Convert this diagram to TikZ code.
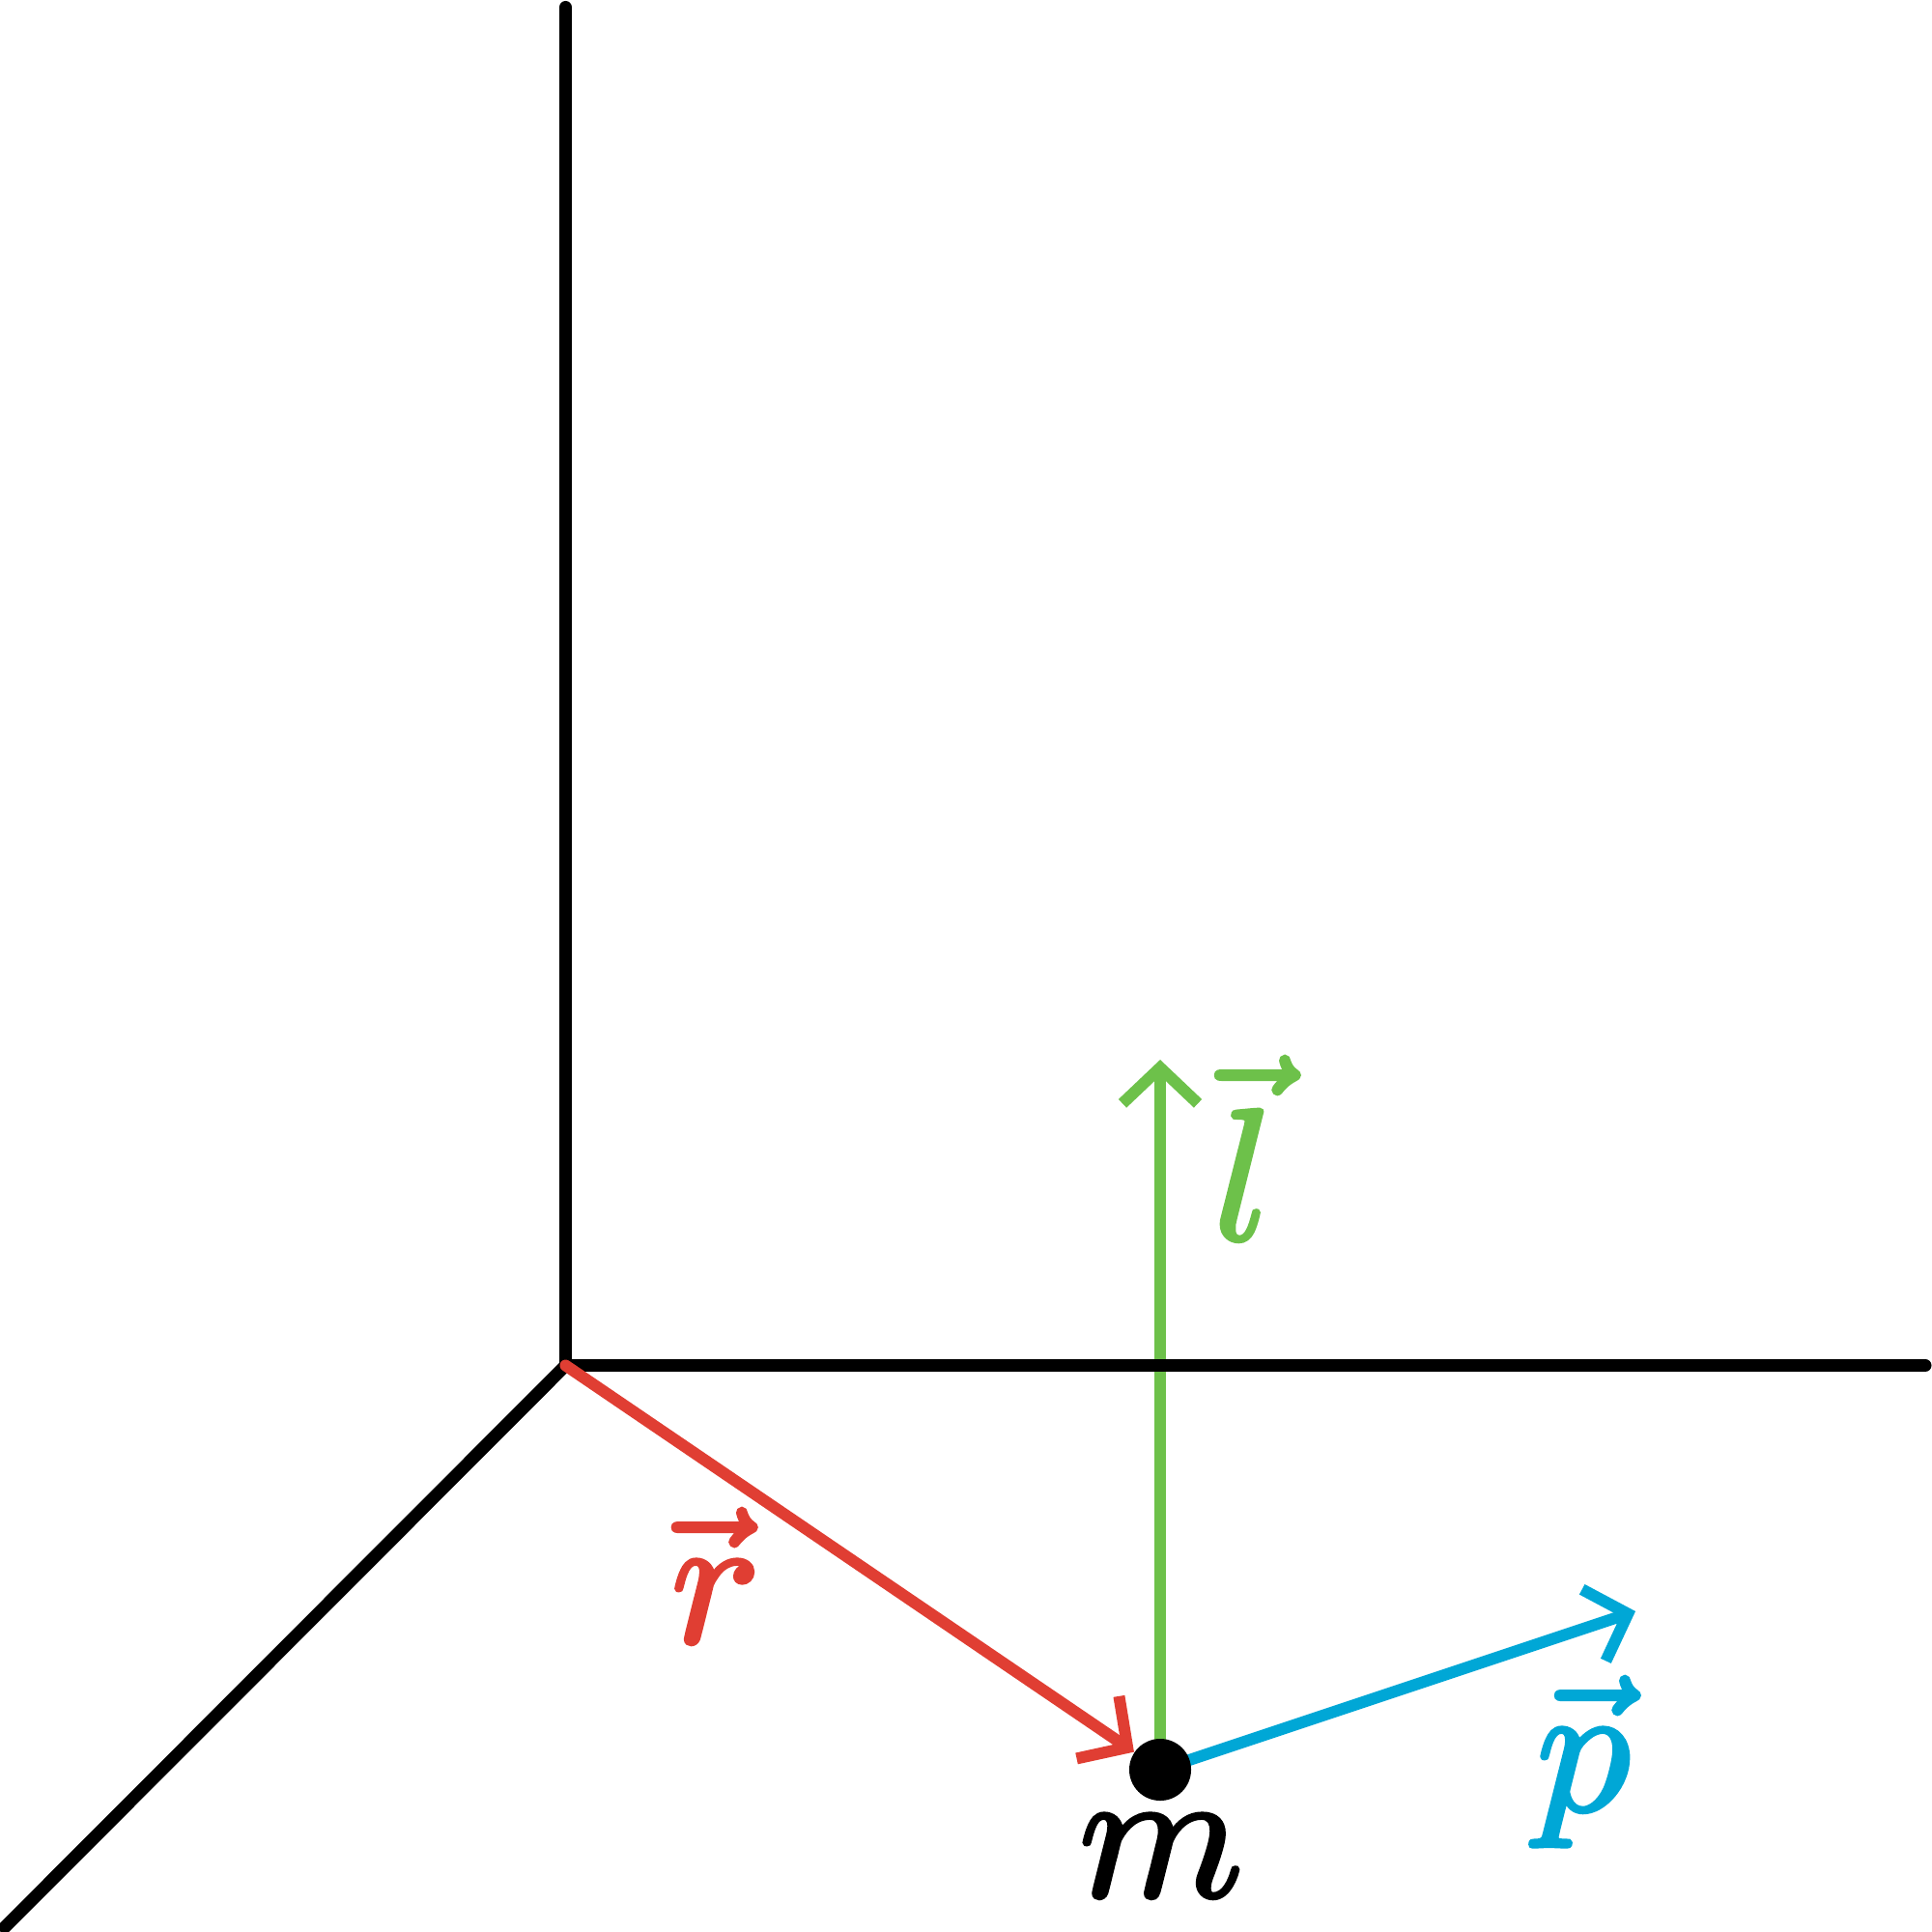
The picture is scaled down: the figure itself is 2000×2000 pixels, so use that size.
\documentclass[tikz,border=0pt]{standalone}
\usetikzlibrary{arrows.meta,backgrounds}
\definecolor{lgreen}{RGB}{109,193,74}
\definecolor{lred}{RGB}{224,62,51}
\definecolor{lblue}{RGB}{0,167,214}
\newcommand{\heavytext}[1]{\special{pdf:literal direct 2 Tr 0.22 w}#1\special{pdf:literal direct 0 Tr}}
\begin{document}
\begin{tikzpicture}[x=0.01cm,y=-0.01cm,
  axis/.style={line width=0.13cm, line cap=round, black},
  vecarrow/.style={line width=0.12cm, -{Straight Barb[length=0.37cm,width=0.78cm]}},
  dot/.style={circle, fill=black, inner sep=0pt, minimum size=0.64cm},
  lbl/.style={font=\normalsize, scale=5.5, inner sep=0pt, anchor=base}]
\useasboundingbox (0,0) rectangle (2000,2000);
\coordinate (O) at (585.5,1413.5);
\coordinate (Y) at (585.5,7.5);
\coordinate (X) at (1993,1413.5);
\coordinate (Z) at (5,1995);
\coordinate (L) at (1201,1097);
\coordinate (P) at (1693,1668);
\draw[axis] (Y) -- (O) -- (X);
\draw[axis] (O) -- (Z);
\node[dot] (m) at (1201,1832) {};
\begin{scope}[on background layer]
  \draw[vecarrow, lgreen] (m.center) -- (L);
  \draw[vecarrow, lblue] (m.center) -- (P);
\end{scope}
\draw[vecarrow, lred, line cap=round] (O) -- (m);
\node[lbl] (mlabel) at (1202,1963) {\heavytext{$m$}};
\node[lbl, lgreen] (llabel) at (1287,1283) {\heavytext{$\skew{0}\vec{l}$}};
\node[lbl, lblue] (plabel) at (1639,1874) {\heavytext{$\skew{0}\vec{p}$}};
\node[lbl, lred] (rlabel) at (741,1700) {\heavytext{$\skew{-3}\vec{r}$}};
\end{tikzpicture}
\end{document}
